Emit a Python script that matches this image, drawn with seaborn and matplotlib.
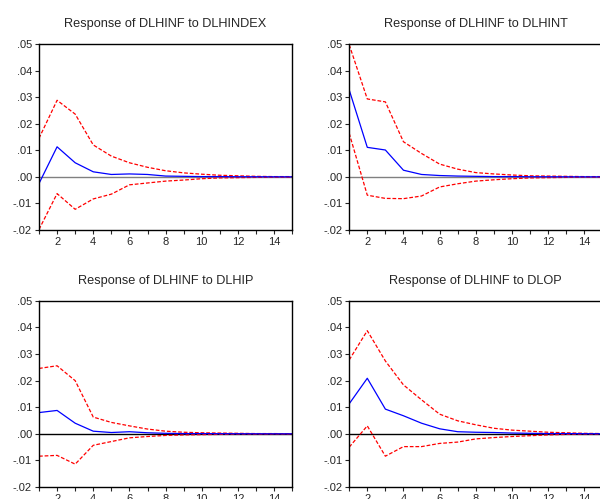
import numpy as np
import pandas as pd
import matplotlib
matplotlib.use("Agg")
import matplotlib.pyplot as plt
import seaborn as sns
from matplotlib.ticker import FuncFormatter, MultipleLocator

# Impulse responses of DLHINF, periods 1..15
periods = list(range(1, 16))

titles = ["Response of DLHINF to DLHINDEX", "Response of DLHINF to DLHINT",
          "Response of DLHINF to DLHIP", "Response of DLHINF to DLOP"]

resp_hindex = [-0.0025, 0.0113, 0.0053, 0.0019, 0.0009, 0.0011, 0.0009, 0.0003, 0.0002, 0.0001, 0.0001, 0.00005, 0.00003, 0.00002, 0.00001]
upper_hindex = [0.0145, 0.0288, 0.0236, 0.0120, 0.0078, 0.0053, 0.0036, 0.0023, 0.0015, 0.0010, 0.0006, 0.0004, 0.0002, 0.0001, 0.0001]
lower_hindex = [-0.0198, -0.0063, -0.0122, -0.0083, -0.0065, -0.0030, -0.0023, -0.0016, -0.0012, -0.0007, -0.0004, -0.0003, -0.0002, -0.0001, -0.0001]

resp_hint = [0.0327, 0.0111, 0.0101, 0.0025, 0.0009, 0.0005, 0.0003, 0.0002, 0.0001, 0.0001, 0.00005, 0.00003, 0.00002, 0.00001, 0.00001]
upper_hint = [0.0497, 0.0293, 0.0282, 0.0132, 0.0088, 0.0048, 0.0029, 0.0016, 0.0011, 0.0007, 0.0004, 0.0003, 0.0002, 0.0001, 0.0001]
lower_hint = [0.0164, -0.0069, -0.0081, -0.0082, -0.0072, -0.0038, -0.0026, -0.0016, -0.0011, -0.0007, -0.0004, -0.0003, -0.0002, -0.0001, -0.0001]

resp_hip = [0.0080, 0.0088, 0.0040, 0.0010, 0.0005, 0.0008, 0.0004, 0.0002, 0.0001, 0.0001, 0.00005, 0.00003, 0.00002, 0.00001, 0.00001]
upper_hip = [0.0246, 0.0256, 0.0200, 0.0063, 0.0043, 0.0030, 0.0018, 0.0010, 0.0006, 0.0004, 0.0003, 0.0002, 0.0001, 0.0001, 0.00005]
lower_hip = [-0.0084, -0.0081, -0.0114, -0.0043, -0.0029, -0.0015, -0.0010, -0.0006, -0.0004, -0.0003, -0.0002, -0.0001, -0.0001, -0.00005, -0.00003]

resp_op = [0.0113, 0.0209, 0.0093, 0.0068, 0.0040, 0.0019, 0.0008, 0.0006, 0.0005, 0.0003, 0.0002, 0.0001, 0.0001, 0.00005, 0.00003]
upper_op = [0.0278, 0.0388, 0.0274, 0.0184, 0.0128, 0.0074, 0.0049, 0.0034, 0.0021, 0.0014, 0.0010, 0.0006, 0.0004, 0.0002, 0.0001]
lower_op = [-0.0050, 0.0030, -0.0084, -0.0048, -0.0048, -0.0036, -0.0031, -0.0019, -0.0014, -0.0010, -0.0007, -0.0004, -0.0002, -0.0001, -0.0001]

panels = [(resp_hindex, upper_hindex, lower_hindex),
          (resp_hint, upper_hint, lower_hint),
          (resp_hip, upper_hip, lower_hip),
          (resp_op, upper_op, lower_op)]

sns.set_style("ticks")
plt.rcParams['font.family'] = ['Liberation Sans', 'DejaVu Sans']

fig = plt.figure(figsize=(6, 4.99), dpi=100)
rects = [[0.065, 0.539, 0.422, 0.373], [0.582, 0.539, 0.422, 0.373],
         [0.065, 0.024, 0.422, 0.373], [0.582, 0.024, 0.422, 0.373]]

def fmt(v, pos):
    s = f"{v:.2f}"
    return s.replace("0.", ".")

for i, (resp, up, lo) in enumerate(panels):
    ax = fig.add_axes(rects[i])
    df = pd.DataFrame({"period": periods, "resp": resp, "upper": up, "lower": lo})
    zero_col = "#808080" if i < 2 else "black"
    ax.axhline(0, color=zero_col, lw=1.0, zorder=1)
    sns.lineplot(data=df, x="period", y="upper", ax=ax, color="#ff0000", lw=0.9, linestyle=(0, (3, 1.5)))
    sns.lineplot(data=df, x="period", y="lower", ax=ax, color="#ff0000", lw=0.9, linestyle=(0, (3, 1.5)))
    sns.lineplot(data=df, x="period", y="resp", ax=ax, color="#0000ff", lw=0.9)
    ax.set_xlim(1, 15)
    ax.set_ylim(-0.02, 0.05)
    ax.xaxis.set_major_locator(MultipleLocator(2))
    ax.xaxis.set_minor_locator(MultipleLocator(1))
    ax.yaxis.set_major_locator(MultipleLocator(0.01))
    ax.yaxis.set_major_formatter(FuncFormatter(fmt))
    ax.set_xlabel("")
    ax.set_ylabel("")
    ax.set_title(titles[i], fontsize=9.2, pad=12)
    ax.tick_params(axis="both", which="major", labelsize=8, direction="out", length=3, width=0.8, pad=2)
    ax.tick_params(axis="x", which="minor", direction="out", length=3, width=0.8)
    for sp in ax.spines.values():
        sp.set_linewidth(1.0)
        sp.set_color("black")

fig.savefig("out.png", dpi=100)
